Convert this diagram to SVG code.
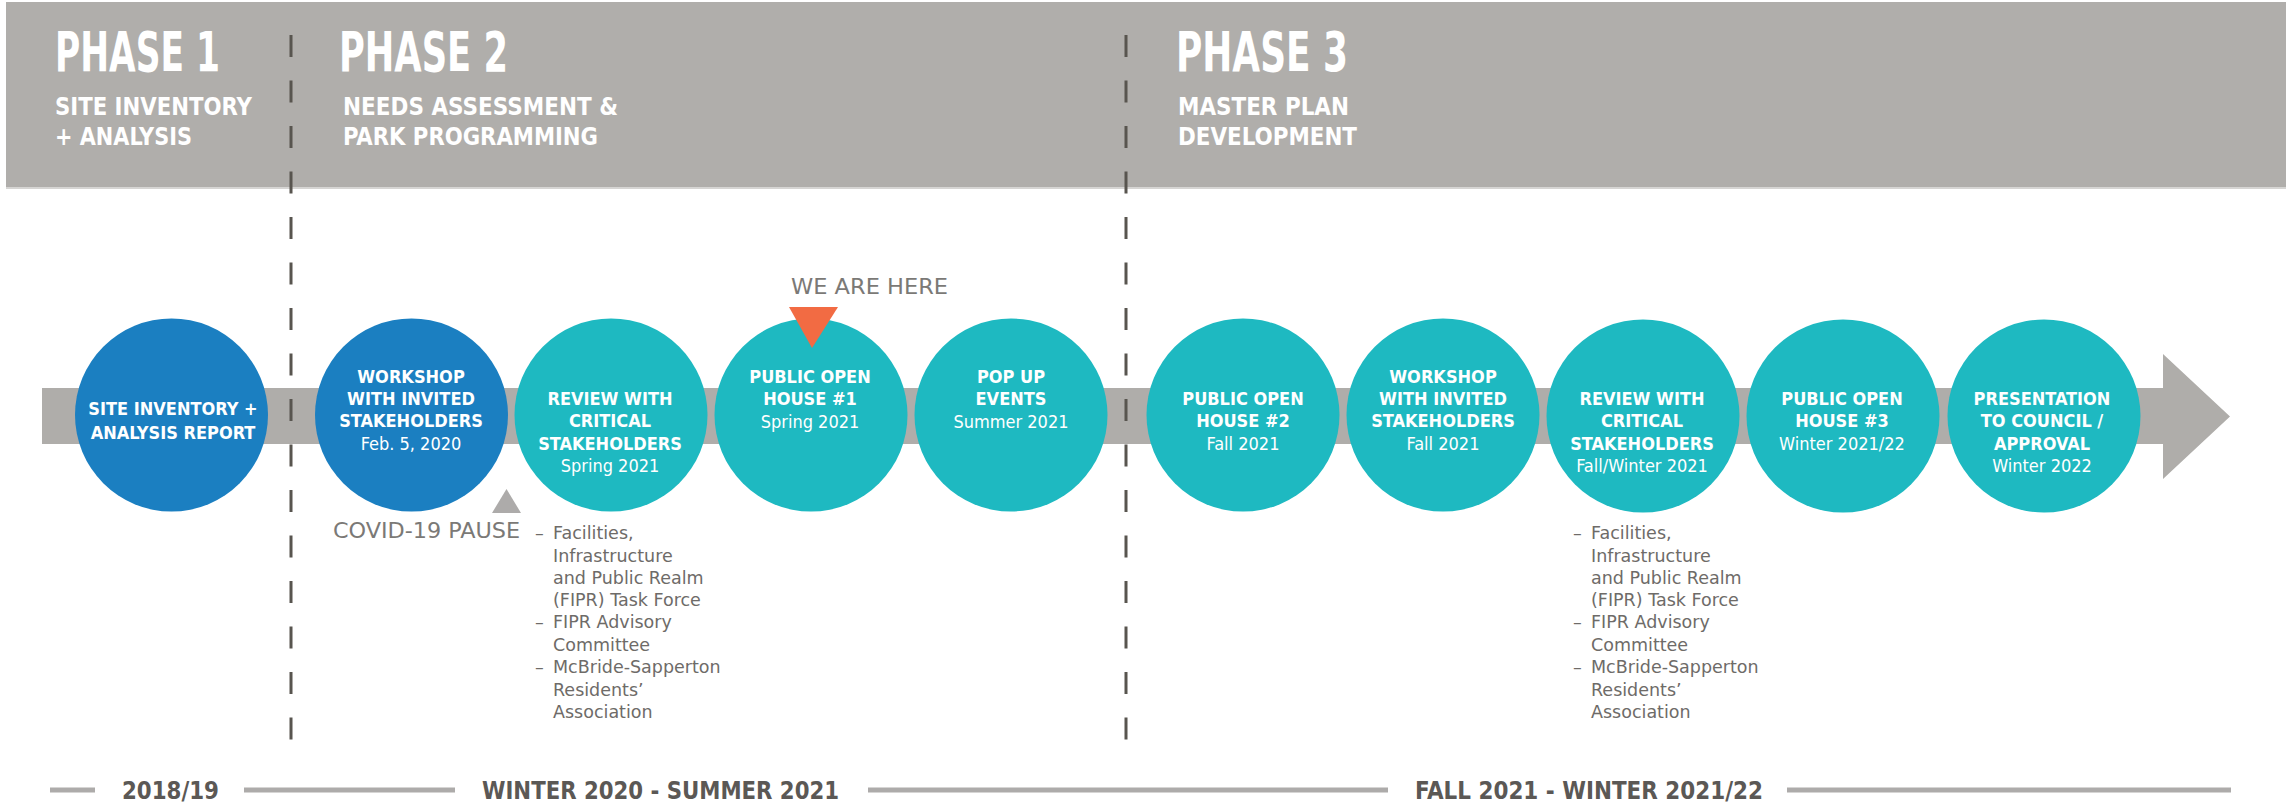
<svg xmlns="http://www.w3.org/2000/svg" width="2286" height="804" viewBox="0 0 2286 804">
<style>
.hd{font-family:"DejaVu Sans Condensed","DejaVu Sans",sans-serif;font-stretch:condensed;font-weight:bold;fill:#ffffff}
.nb{font-family:"DejaVu Sans Condensed","DejaVu Sans",sans-serif;font-stretch:condensed;font-weight:bold;font-size:18px;fill:#ffffff;text-anchor:middle}
.nr{font-family:"DejaVu Sans Condensed","DejaVu Sans",sans-serif;font-stretch:condensed;font-size:18px;fill:#ffffff;text-anchor:middle}
.blue{fill:#1b7fc1}
.teal{fill:#1eb9c1}
.lst{font-family:"DejaVu Sans",sans-serif;font-size:17.5px;fill:#6e6b68}
.note{font-family:"DejaVu Sans Condensed","DejaVu Sans",sans-serif;font-stretch:condensed;font-size:22px;fill:#7b7976}
.tl{font-family:"DejaVu Sans Condensed","DejaVu Sans",sans-serif;font-stretch:condensed;font-weight:bold;font-size:25px;fill:#5b5855}
.dash{stroke:#58554f;stroke-width:3;stroke-dasharray:22 23.5;fill:none}
.tlbar{fill:#adabaa}
</style>

<g id="header">
<rect x="6" y="2" width="2280" height="186" fill="#b0aeab"/>
<rect x="6" y="187" width="2280" height="2" fill="#d6d5d3"/>
<text class="hd" x="55" y="71" font-size="55" textLength="165" lengthAdjust="spacingAndGlyphs">PHASE 1</text>
<text class="hd" x="55" y="115" font-size="25" textLength="197" lengthAdjust="spacingAndGlyphs">SITE INVENTORY</text>
<text class="hd" x="55" y="145" font-size="25" textLength="137" lengthAdjust="spacingAndGlyphs">+ ANALYSIS</text>
<text class="hd" x="339" y="71" font-size="55" textLength="169" lengthAdjust="spacingAndGlyphs">PHASE 2</text>
<text class="hd" x="343" y="115" font-size="25" textLength="275" lengthAdjust="spacingAndGlyphs">NEEDS ASSESSMENT &amp;</text>
<text class="hd" x="343" y="145" font-size="25" textLength="255" lengthAdjust="spacingAndGlyphs">PARK PROGRAMMING</text>
<text class="hd" x="1176" y="71" font-size="55" textLength="172" lengthAdjust="spacingAndGlyphs">PHASE 3</text>
<text class="hd" x="1178" y="115" font-size="25" textLength="171" lengthAdjust="spacingAndGlyphs">MASTER PLAN</text>
<text class="hd" x="1178" y="145" font-size="25" textLength="179" lengthAdjust="spacingAndGlyphs">DEVELOPMENT</text>
</g>

<g id="connectors">
<polygon points="42,388 2163,388 2163,354 2230,416.5 2163,479 2163,444 42,444" fill="#afadaa"/>
</g>

<g id="phase-dividers">
<line class="dash" x1="291" y1="35" x2="291" y2="740"/>
<line class="dash" x1="1126" y1="35" x2="1126" y2="740"/>
</g>

<g id="node-site-inventory">
<circle class="blue" cx="171.5" cy="415" r="96.5"/>
<text class="nb" x="173" y="415">SITE INVENTORY +</text>
<text class="nb" x="173" y="439">ANALYSIS REPORT</text>
</g>

<g id="node-workshop-1">
<circle class="blue" cx="411.5" cy="415" r="96.5"/>
<text class="nb" x="411" y="383">WORKSHOP</text>
<text class="nb" x="411" y="405">WITH INVITED</text>
<text class="nb" x="411" y="427">STAKEHOLDERS</text>
<text class="nr" x="411" y="450">Feb. 5, 2020</text>
</g>

<g id="node-review-1">
<circle class="teal" cx="611" cy="415" r="96.5"/>
<text class="nb" x="610" y="405">REVIEW WITH</text>
<text class="nb" x="610" y="427">CRITICAL</text>
<text class="nb" x="610" y="450">STAKEHOLDERS</text>
<text class="nr" x="610" y="472">Spring 2021</text>
</g>

<g id="node-open-house-1">
<circle class="teal" cx="811" cy="415" r="96.5"/>
<text class="nb" x="810" y="383">PUBLIC OPEN</text>
<text class="nb" x="810" y="405">HOUSE #1</text>
<text class="nr" x="810" y="428">Spring 2021</text>
</g>

<g id="node-pop-up">
<circle class="teal" cx="1011" cy="415" r="96.5"/>
<text class="nb" x="1011" y="383">POP UP</text>
<text class="nb" x="1011" y="405">EVENTS</text>
<text class="nr" x="1011" y="428">Summer 2021</text>
</g>

<g id="node-open-house-2">
<circle class="teal" cx="1243" cy="415" r="96.5"/>
<text class="nb" x="1243" y="405">PUBLIC OPEN</text>
<text class="nb" x="1243" y="427">HOUSE #2</text>
<text class="nr" x="1243" y="450">Fall 2021</text>
</g>

<g id="node-workshop-2">
<circle class="teal" cx="1443" cy="415" r="96.5"/>
<text class="nb" x="1443" y="383">WORKSHOP</text>
<text class="nb" x="1443" y="405">WITH INVITED</text>
<text class="nb" x="1443" y="427">STAKEHOLDERS</text>
<text class="nr" x="1443" y="450">Fall 2021</text>
</g>

<g id="node-review-2">
<circle class="teal" cx="1643" cy="416" r="96.5"/>
<text class="nb" x="1642" y="405">REVIEW WITH</text>
<text class="nb" x="1642" y="427">CRITICAL</text>
<text class="nb" x="1642" y="450">STAKEHOLDERS</text>
<text class="nr" x="1642" y="472">Fall/Winter 2021</text>
</g>

<g id="node-open-house-3">
<circle class="teal" cx="1843" cy="416" r="96.5"/>
<text class="nb" x="1842" y="405">PUBLIC OPEN</text>
<text class="nb" x="1842" y="427">HOUSE #3</text>
<text class="nr" x="1842" y="450">Winter 2021/22</text>
</g>

<g id="node-presentation">
<circle class="teal" cx="2044" cy="416" r="96.5"/>
<text class="nb" x="2042" y="405">PRESENTATION</text>
<text class="nb" x="2042" y="427">TO COUNCIL /</text>
<text class="nb" x="2042" y="450">APPROVAL</text>
<text class="nr" x="2042" y="472">Winter 2022</text>
</g>

<g id="we-are-here">
<text class="note" x="791" y="294" textLength="157" lengthAdjust="spacingAndGlyphs">WE ARE HERE</text>
<polygon points="789,307 838,307 812,348" fill="#f26b43"/>
</g>

<g id="covid-pause">
<polygon points="492,513 521,513 506.5,489" fill="#adabaa"/>
<text class="note" x="333" y="538" textLength="187" lengthAdjust="spacingAndGlyphs">COVID-19 PAUSE</text>
</g>

<g id="list-1" class="lst">
<text x="535" y="539">–</text>
<text x="553" y="539">Facilities,</text>
<text x="553" y="562">Infrastructure</text>
<text x="553" y="584">and Public Realm</text>
<text x="553" y="606">(FIPR) Task Force</text>
<text x="535" y="628">–</text>
<text x="553" y="628">FIPR Advisory</text>
<text x="553" y="651">Committee</text>
<text x="535" y="673">–</text>
<text x="553" y="673">McBride-Sapperton</text>
<text x="553" y="696">Residents’</text>
<text x="553" y="718">Association</text>
</g>

<g id="list-2" class="lst">
<text x="1573" y="539">–</text>
<text x="1591" y="539">Facilities,</text>
<text x="1591" y="562">Infrastructure</text>
<text x="1591" y="584">and Public Realm</text>
<text x="1591" y="606">(FIPR) Task Force</text>
<text x="1573" y="628">–</text>
<text x="1591" y="628">FIPR Advisory</text>
<text x="1591" y="651">Committee</text>
<text x="1573" y="673">–</text>
<text x="1591" y="673">McBride-Sapperton</text>
<text x="1591" y="696">Residents’</text>
<text x="1591" y="718">Association</text>
</g>

<g id="timeline">
<rect class="tlbar" x="50" y="787.5" width="45" height="5"/>
<rect class="tlbar" x="244" y="787.5" width="211" height="5"/>
<rect class="tlbar" x="868" y="787.5" width="520" height="5"/>
<rect class="tlbar" x="1787" y="787.5" width="444" height="5"/>
<text class="tl" x="122" y="799" textLength="97" lengthAdjust="spacingAndGlyphs">2018/19</text>
<text class="tl" x="482" y="799" textLength="357" lengthAdjust="spacingAndGlyphs">WINTER 2020 - SUMMER 2021</text>
<text class="tl" x="1415" y="799" textLength="348" lengthAdjust="spacingAndGlyphs">FALL 2021 - WINTER 2021/22</text>
</g>
</svg>
